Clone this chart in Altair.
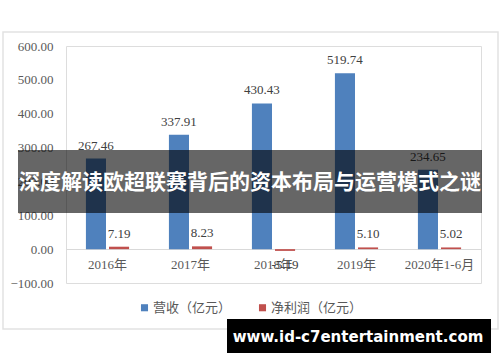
import altair as alt
import pandas as pd

categories = ["2016年", "2017年", "2018年", "2019年", "2020年1-6月"]
revenue = [267.46, 337.91, 430.43, 519.74, 234.65]
profit = [7.19, 8.23, -5.19, 5.10, 5.02]
series_names = ["营收（亿元）", "净利润（亿元）"]
y_ticks = [-100, 0, 100, 200, 300, 400, 500, 600]
banner_text = "深度解读欧超联赛背后的资本布局与运营模式之谜"
watermark_text = "www.id-c7entertainment.com"

rows = []
for c, r, p in zip(categories, revenue, profit):
    rows.append({"cat": c, "series": series_names[0], "value": r, "label": f"{r:.2f}"})
    rows.append({"cat": c, "series": series_names[1], "value": p, "label": f"{abs(p):.2f}" if p >= 0 else f"{p:.2f}"})
df = pd.DataFrame(rows)

W, H = 415, 237
PAD_L, PAD_T = 66, 46
num_font = "Liberation Serif, Noto Sans CJK SC"

x = alt.X("cat:N", sort=categories, title=None,
          scale=alt.Scale(paddingInner=0.48, paddingOuter=0.24),
          axis=alt.Axis(labelAngle=0, ticks=False, domainColor="#d9d9d9", domainWidth=1,
                        offset=-34, labelPadding=9, labelFont=num_font, labelFontSize=13,
                        labelColor="#595959"))
xo = alt.XOffset("series:N", sort=series_names, scale=alt.Scale(paddingInner=0.13))
y = alt.Y("value:Q", title=None,
          scale=alt.Scale(domain=[-100, 600], nice=False),
          axis=alt.Axis(values=y_ticks, format=".2f", grid=False, domain=False, ticks=False,
                        labelPadding=13, labelFont=num_font, labelFontSize=13,
                        labelColor="#595959"))

base = alt.Chart(df)
bars = base.mark_bar().encode(
    x=x, xOffset=xo, y=y,
    color=alt.Color("series:N", sort=series_names,
                    scale=alt.Scale(domain=series_names, range=["#4F81BD", "#C0504D"]),
                    legend=alt.Legend(title=None, orient="none", direction="horizontal",
                                      legendX=72, legendY=255, symbolType="square",
                                      symbolSize=50, labelFontSize=13, labelColor="#595959",
                                      labelFont="Noto Sans CJK SC", columnPadding=24,
                                      symbolOffset=0, labelOffset=2)),
)
labels_pos = base.transform_filter("datum.value >= 0").mark_text(
    baseline="bottom", dy=-6, font=num_font, fontSize=13, color="#404040"
).encode(x=x, xOffset=xo, y=y, text="label:N")
labels_neg = base.transform_filter("datum.value < 0").mark_text(
    baseline="top", dy=8, font=num_font, fontSize=13, color="#404040"
).encode(x=x, xOffset=xo, y=y, text="label:N")

deco = alt.Chart(pd.DataFrame({"k": [0]}))
frame = deco.mark_rect(fill=None, stroke="#e2e2e2", strokeWidth=1.5).encode(
    x=alt.value(3 - PAD_L), x2=alt.value(498 - PAD_L),
    y=alt.value(32 - PAD_T), y2=alt.value(329 - PAD_T))
banner = deco.mark_rect(color="black", opacity=0.6).encode(
    x=alt.value(18 - PAD_L), x2=alt.value(482 - PAD_L),
    y=alt.value(150 - PAD_T), y2=alt.value(213 - PAD_T))
banner_t = deco.mark_text(text=banner_text, font="Noto Sans CJK SC", fontWeight="bold",
                          fontSize=21, color="white", align="center", baseline="middle").encode(
    x=alt.value(250 - PAD_L), y=alt.value(183 - PAD_T))
wm = deco.mark_rect(color="black").encode(
    x=alt.value(227 - PAD_L), x2=alt.value(491 - PAD_L),
    y=alt.value(319 - PAD_T), y2=alt.value(353 - PAD_T))
wm_t = deco.mark_text(text=watermark_text, font="DejaVu Sans", fontWeight="bold",
                      fontSize=15, color="white", align="center", baseline="middle").encode(
    x=alt.value(358 - PAD_L), y=alt.value(337 - PAD_T))

chart = alt.layer(frame, bars, labels_pos, labels_neg, banner, banner_t, wm, wm_t).properties(
    width=W, height=H,
    autosize=alt.AutoSizeParams(type="none"),
    padding={"left": PAD_L, "top": PAD_T, "right": 500 - PAD_L - W, "bottom": 362 - PAD_T - H},
).configure_view(stroke=None).configure(background="white")

chart.save("out.html", embed_options={"renderer": "svg", "actions": False})
